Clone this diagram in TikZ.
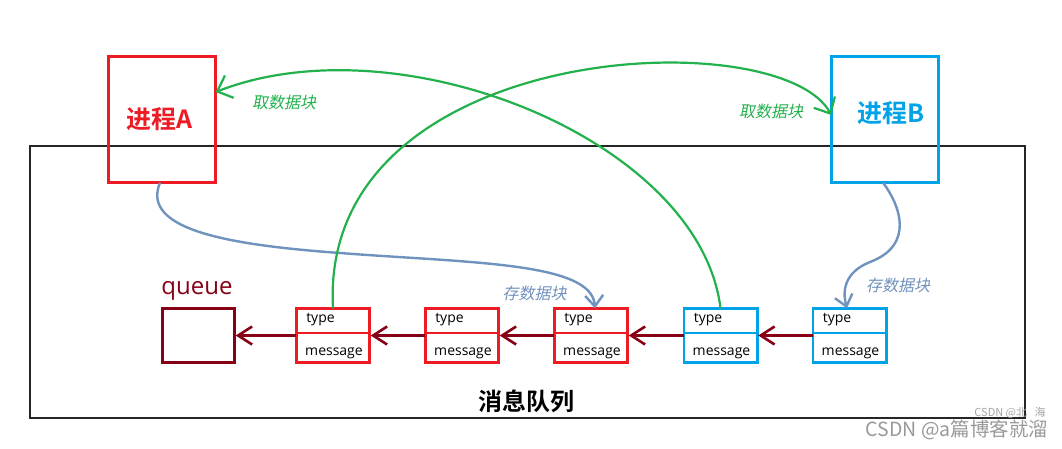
\documentclass[tikz,border=0pt]{standalone}
\usepackage{fontspec}
\usetikzlibrary{arrows.meta}
\setmainfont{Open Sans}
\newfontfamily\cjk{Noto Sans CJK SC}[BoldFont={Noto Sans CJK SC Bold}]
\newfontfamily\cjkit{Noto Sans CJK SC}[FakeSlant=0.2]
\definecolor{pred}{HTML}{ED1C24}
\definecolor{pblue}{HTML}{00A2E8}
\definecolor{dred}{HTML}{880015}
\definecolor{pgreen}{HTML}{22B14C}
\definecolor{pgray}{HTML}{7092BE}
\tikzset{
  every node/.style={inner sep=0pt, outer sep=0pt},
  procbox/.style={draw, line width=2.6pt, minimum width=107.4pt, minimum height=126.4pt},
  msgbox/.style={draw, line width=2.6pt, minimum width=73.4pt, minimum height=54.4pt},
  proctext/.style={font=\cjk\bfseries\fontsize{25}{28}\selectfont},
  fetchlbl/.style={font=\cjkit\fontsize{16}{18}\selectfont, text=pgreen},
  storelbl/.style={font=\cjkit\fontsize{16}{18}\selectfont, text=pgray},
  fieldtext/.style={font=\fontsize{14}{16}\selectfont, text=black},
  qarrow/.style={draw=dred, line width=2.6pt, -{Straight Barb[length=14pt,width=18pt]}},
  fetcharrow/.style={draw=pgreen, line width=2.2pt, -{Straight Barb[length=13pt,width=24pt]}},
  storearrow/.style={draw=pgray, line width=2.4pt, -{Straight Barb[length=11pt,width=18pt]}},
}
\newcommand\msgnode[3]{%
  \node[msgbox, draw=#3] (#1) at (#2,335.5) {};
  \draw[#3, line width=2.6pt] ([yshift=-24.7pt]#1.north west) -- ([yshift=-24.7pt]#1.north east);
  \node[fieldtext, anchor=base west] (#1t) at ([xshift=10pt,yshift=-14pt]#1.north west) {type};
  \node[fieldtext, anchor=base] (#1m) at ([xshift=1pt,yshift=7.5pt]#1.south) {message};
}
\begin{document}
\begin{tikzpicture}[x=1pt,y=-1pt]
\useasboundingbox (0,0) rectangle (1062,448);
\fill[white] (0,0) rectangle (1062,448);
% outer container
\draw[black!85, line width=1.2pt] (30,146) rectangle (1025,418);
\node[font=\cjk\bfseries\fontsize{24}{26}\selectfont] (title) at (526,401) {消息队列};
% processes
\node[procbox, draw=pred] (A) at (162,119.5) {};
\node[proctext, text=pred] (At) at (160,119) {进程A};
\node[procbox, draw=pblue] (B) at (885,119.5) {};
\node[proctext, text=pblue] (Bt) at (891,113) {进程B};
% queue
\node[font=\fontsize{24}{26}\selectfont, text=dred] (ql) at (197,291) {queue};
\node[draw=dred, line width=2.6pt, minimum width=72.4pt, minimum height=54.4pt] (queue) at (198.5,335.5) {};
% messages
\msgnode{r1}{333}{pred}
\msgnode{r2}{462}{pred}
\msgnode{r3}{591}{pred}
\msgnode{b1}{720.5}{pblue}
\msgnode{b2}{849.5}{pblue}
% chain arrows
\draw[qarrow] (r1.west) -- ([xshift=1pt]queue.east);
\draw[qarrow] (r2.west) -- ([xshift=1pt]r1.east);
\draw[qarrow] (r3.west) -- ([xshift=1pt]r2.east);
\draw[qarrow] (b1.west) -- ([xshift=1pt]r3.east);
\draw[qarrow] (b2.west) -- ([xshift=1pt]b1.east);
% store arrows
\coordinate (s1) at (340,253);
\draw[storearrow] ([xshift=-2pt]A.south) .. controls (140,230) and (230,245) .. (s1)
  .. controls (470,263) and (592,262) .. ([xshift=4pt]r3.north);
\coordinate (s2) at (870,262);
\draw[storearrow] ([xshift=-2pt]B.south) .. controls (900,205) and (915,245) .. (s2)
  .. controls (845,272) and (842,290) .. ([xshift=-2.5pt]b2.north);
\node[storelbl] (st1) at (534.5,293) {存数据块};
\node[storelbl] (st2) at (898,285) {存数据块};
% fetch arrows
\draw[fetcharrow] (b1.north) .. controls (700,140) and (400,20) .. ([yshift=27.5pt]A.east);
\draw[fetcharrow] (r1.north) .. controls (318,40) and (780,20) .. ([yshift=4.5pt]B.west);
\node[fetchlbl] (f1) at (284,102) {取数据块};
\node[fetchlbl] (f2) at (771,111) {取数据块};
% watermark
\node[font=\cjk\fontsize{11}{12}\selectfont, text=black!35] (wm2) at (1010,413) {CSDN @北\ \ \ 海};
\node[font=\cjk\fontsize{19.5}{21}\selectfont, text=black!40, anchor=east] (wm) at (1048,430) {CSDN @a篇博客就溜};
\end{tikzpicture}
\end{document}
